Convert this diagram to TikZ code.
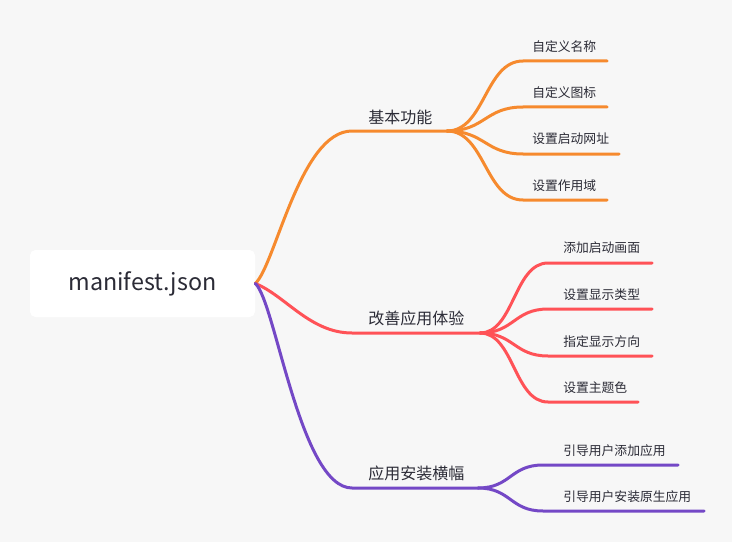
\documentclass[tikz,border=0pt]{standalone}
\usepackage{fontspec}
\setmainfont{Noto Sans CJK SC}
\definecolor{bg}{HTML}{F7F7F7}
\definecolor{ink}{HTML}{2B2B36}
\definecolor{orangeline}{HTML}{F68A2E}
\definecolor{redline}{HTML}{FF5257}
\definecolor{purpleline}{HTML}{7448C6}
\tikzset{
    branch/.style={line width=2.25pt, line cap=round},
    topic/.style={anchor=west, inner sep=0pt, text=ink, font=\fontsize{12}{14}\selectfont},
    subtopic/.style={anchor=west, inner sep=0pt, text=ink, font=\fontsize{9.6}{12}\selectfont}
}
\begin{document}
\begin{tikzpicture}[x=0.75pt, y=-0.75pt]
    % the background (it also fixes the size of the picture)
    \fill[bg] (0,0) rectangle (732,542);
    \useasboundingbox (0,0) rectangle (732,542);

    % the central topic
    \node[fill=white, rounded corners=4pt, minimum width=168.75pt, minimum height=50.25pt,
          text=ink, font=\fontsize{17.5}{20}\selectfont] (root) at (142.5,283.5) {manifest.json};

    % the points where the lines of the topics start and end
    \coordinate (t1a) at (352,131);
    \coordinate (t1b) at (447,131);
    \coordinate (t2a) at (352,333);
    \coordinate (t2b) at (480,333);
    \coordinate (t3a) at (352,488);
    \coordinate (t3b) at (478,488);

    % the points of the sub topics
    \coordinate (s11a) at (523,61);  \coordinate (s11b) at (607,61);
    \coordinate (s12a) at (523,107); \coordinate (s12b) at (607,107);
    \coordinate (s13a) at (523,154); \coordinate (s13b) at (619,154);
    \coordinate (s14a) at (523,200); \coordinate (s14b) at (607,200);
    \coordinate (s21a) at (548,263); \coordinate (s21b) at (652,263);
    \coordinate (s22a) at (548,309); \coordinate (s22b) at (652,309);
    \coordinate (s23a) at (548,356); \coordinate (s23b) at (652,356);
    \coordinate (s24a) at (548,402); \coordinate (s24b) at (638,402);
    \coordinate (s31a) at (543,465); \coordinate (s31b) at (678,465);
    \coordinate (s32a) at (543,511); \coordinate (s32b) at (704,511);

    % draw the branches of the topics
    \draw[branch, orangeline] (root.east) .. controls +(20,-18) and +(-52,0) .. (t1a) -- (t1b);
    \draw[branch, redline] (root.east) .. controls +(30,12) and +(-42,0) .. (t2a) -- (t2b);
    \draw[branch, purpleline] (root.east) .. controls +(20,17) and +(-52,0) .. (t3a) -- (t3b);

    % draw the branches of the sub topics
    \draw[branch, orangeline] (t1b) .. controls +(38,0) and +(-38,0) .. (s11a) -- (s11b);
    \draw[branch, orangeline] (t1b) .. controls +(38,0) and +(-38,0) .. (s12a) -- (s12b);
    \draw[branch, orangeline] (t1b) .. controls +(38,0) and +(-38,0) .. (s13a) -- (s13b);
    \draw[branch, orangeline] (t1b) .. controls +(38,0) and +(-38,0) .. (s14a) -- (s14b);
    \draw[branch, redline] (t2b) .. controls +(34,0) and +(-34,0) .. (s21a) -- (s21b);
    \draw[branch, redline] (t2b) .. controls +(34,0) and +(-34,0) .. (s22a) -- (s22b);
    \draw[branch, redline] (t2b) .. controls +(34,0) and +(-34,0) .. (s23a) -- (s23b);
    \draw[branch, redline] (t2b) .. controls +(34,0) and +(-34,0) .. (s24a) -- (s24b);
    \draw[branch, purpleline] (t3b) .. controls +(33,0) and +(-33,0) .. (s31a) -- (s31b);
    \draw[branch, purpleline] (t3b) .. controls +(33,0) and +(-33,0) .. (s32a) -- (s32b);

    % the texts of the topics
    \node[topic] (t1) at (368,117) {基本功能};
    \node[topic] (t2) at (368,318) {改善应用体验};
    \node[topic] (t3) at (368,473) {应用安装横幅};

    % the texts of the sub topics
    \node[subtopic] (s11) at (532,47) {自定义名称};
    \node[subtopic] (s12) at (532,93) {自定义图标};
    \node[subtopic] (s13) at (532,139) {设置启动网址};
    \node[subtopic] (s14) at (532,186) {设置作用域};
    \node[subtopic] (s21) at (563,248) {添加启动画面};
    \node[subtopic] (s22) at (563,295) {设置显示类型};
    \node[subtopic] (s23) at (563,342) {指定显示方向};
    \node[subtopic] (s24) at (563,388) {设置主题色};
    \node[subtopic] (s31) at (563,451) {引导用户添加应用};
    \node[subtopic] (s32) at (563,497) {引导用户安装原生应用};
\end{tikzpicture}
\end{document}
